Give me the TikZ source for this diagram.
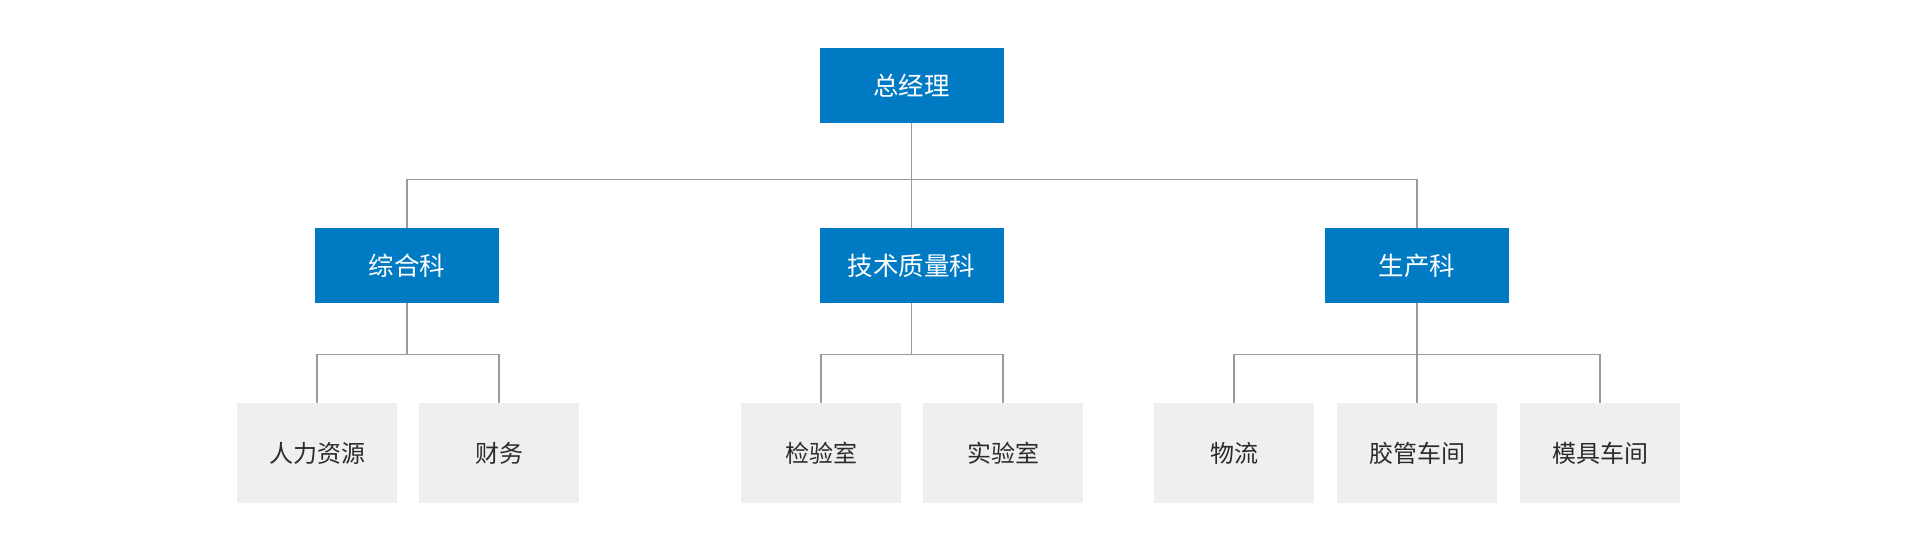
\documentclass[tikz,border=0pt]{standalone}
\usepackage{fontspec}
\setmainfont{Noto Sans CJK SC}
\definecolor{bluebox}{HTML}{007AC3}
\definecolor{graybox}{HTML}{EFEFEF}
\definecolor{linegray}{HTML}{9A9A9A}
\definecolor{txtdark}{HTML}{2B2B2B}
\begin{document}
\begin{tikzpicture}[x=1pt,y=-1pt,
  bluenode/.style={fill=bluebox,text=white,minimum width=184pt,minimum height=75pt,inner sep=0pt,font=\fontsize{25.5}{28}\selectfont},
  graynode/.style={fill=graybox,text=txtdark,minimum width=160pt,minimum height=100pt,inner sep=0pt,font=\fontsize{24}{27}\selectfont},
  conn/.style={draw=linegray,line width=1.2pt}]
\useasboundingbox (0,0) rectangle (1914,550);
\node[bluenode] (gm) at (911.5,85.5) {总经理};
\node[bluenode] (zh) at (407,265.5) {综合科};
\node[bluenode] (js) at (911.5,265.5) {技术质量科};
\node[bluenode] (sc) at (1417,265.5) {生产科};
\node[graynode] (rl) at (317,453) {人力资源};
\node[graynode] (cw) at (499,453) {财务};
\node[graynode] (jy) at (821,453) {检验室};
\node[graynode] (sy) at (1003,453) {实验室};
\node[graynode] (wl) at (1234,453) {物流};
\node[graynode] (jg) at (1417,453) {胶管车间};
\node[graynode] (mj) at (1600,453) {模具车间};
% level 1 -> 2
\coordinate (b1) at (911.5,179.5);
\draw[conn] (gm.south) -- (js.north);
\draw[conn] (zh.north) |- (b1) -| (sc.north);
% level 2 -> 3
\draw[conn] (zh.south) -- (407,354.5);
\draw[conn] (rl.north) |- (407,354.5) -| (cw.north);
\draw[conn] (js.south) -- (911.5,354.5);
\draw[conn] (jy.north) |- (911.5,354.5) -| (sy.north);
\draw[conn] (sc.south) -- (jg.north);
\draw[conn] (wl.north) |- (1417,354.5) -| (mj.north);
\end{tikzpicture}
\end{document}
